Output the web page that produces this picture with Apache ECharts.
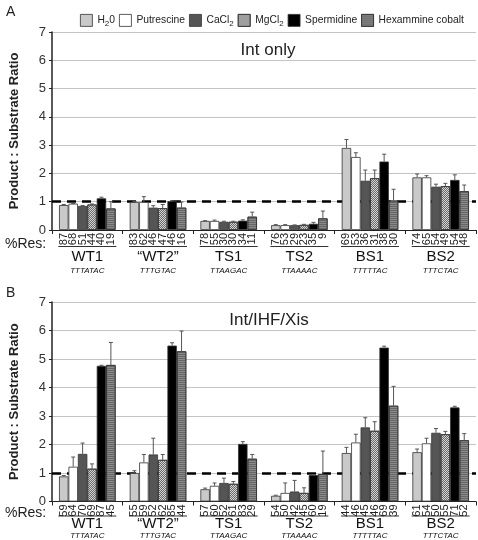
<!DOCTYPE html>
<html><head><meta charset="utf-8">
<script src="https://cdn.jsdelivr.net/npm/echarts@6/dist/echarts.min.js"></script>
<style>html,body{margin:0;padding:0;background:#fff}#c{width:478px;height:540px}</style>
</head><body><div id="c"></div>
<script>
const categories = ['WT1', '\u201cWT2\u201d', 'TS1', 'TS2', 'BS1', 'BS2'];
const sequences = ['TTTATAC', 'TTTGTAC', 'TTAAGAC', 'TTAAAAC', 'TTTTTAC', 'TTTCTAC'];
const seriesNames = ['H20', 'Putrescine', 'CaCl2', 'MgCl2', 'Spermidine', 'Hexammine cobalt'];
const yTicks = [0, 1, 2, 3, 4, 5, 6, 7];

// Panel A (Int only): values per series across categories
const valA_H2O   = [0.88, 0.99, 0.32, 0.17, 2.90, 1.86];
const valA_Put   = [0.93, 0.99, 0.32, 0.17, 2.58, 1.86];
const valA_Ca    = [0.85, 0.79, 0.29, 0.17, 1.74, 1.53];
const valA_Mg    = [0.90, 0.77, 0.29, 0.18, 1.83, 1.55];
const valA_Spd   = [1.12, 1.02, 0.33, 0.22, 2.42, 1.77];
const valA_Hex   = [0.76, 0.79, 0.47, 0.41, 1.04, 1.37];
const errA_H2O   = [0.02, 0.02, 0.01, 0.02, 0.30, 0.12];
const errA_Put   = [0.01, 0.19, 0.03, 0.02, 0.15, 0.06];
const errA_Ca    = [0.02, 0.07, 0.02, 0.01, 0.38, 0.09];
const errA_Mg    = [0.02, 0.13, 0.02, 0.02, 0.29, 0.10];
const errA_Spd   = [0.04, 0.02, 0.03, 0.05, 0.26, 0.18];
const errA_Hex   = [0.24, 0.20, 0.16, 0.26, 0.40, 0.22];
const resA_H2O   = [87, 83, 78, 76, 69, 74];
const resA_Put   = [68, 62, 55, 53, 53, 65];
const resA_Ca    = [51, 46, 30, 29, 36, 54];
const resA_Mg    = [44, 47, 30, 23, 31, 49];
const resA_Spd   = [40, 46, 34, 35, 38, 54];
const resA_Hex   = [19, 16, 11, 9, 30, 48];

// Panel B (Int/IHF/Xis)
const valB_H2O   = [0.88, 1.00, 0.43, 0.20, 1.70, 1.73];
const valB_Put   = [1.22, 1.37, 0.55, 0.30, 2.07, 2.04];
const valB_Ca    = [1.67, 1.65, 0.65, 0.35, 2.60, 2.41];
const valB_Mg    = [1.15, 1.46, 0.62, 0.30, 2.48, 2.36];
const valB_Spd   = [4.76, 5.47, 2.02, 0.93, 5.40, 3.30];
const valB_Hex   = [4.79, 5.27, 1.50, 0.96, 3.36, 2.15];
const errB_H2O   = [0.03, 0.08, 0.04, 0.02, 0.20, 0.11];
const errB_Put   = [0.34, 0.28, 0.10, 0.35, 0.29, 0.18];
const errB_Ca    = [0.38, 0.57, 0.17, 0.39, 0.34, 0.15];
const errB_Mg    = [0.17, 0.19, 0.08, 0.18, 0.32, 0.10];
const errB_Spd   = [0.02, 0.10, 0.08, 0.02, 0.05, 0.04];
const errB_Hex   = [0.79, 0.71, 0.15, 0.81, 0.68, 0.23];
const resB_H2O   = [59, 55, 57, 54, 44, 61];
const resB_Put   = [64, 59, 60, 50, 46, 54];
const resB_Ca    = [70, 52, 52, 42, 45, 50];
const resB_Mg    = [69, 62, 61, 45, 46, 55];
const resB_Spd   = [87, 85, 83, 60, 69, 71];
const resB_Hex   = [45, 44, 29, 19, 39, 52];

const refLine = 1;

const valA = [valA_H2O, valA_Put, valA_Ca, valA_Mg, valA_Spd, valA_Hex];
const errA = [errA_H2O, errA_Put, errA_Ca, errA_Mg, errA_Spd, errA_Hex];
const resA = [resA_H2O, resA_Put, resA_Ca, resA_Mg, resA_Spd, resA_Hex];
const valB = [valB_H2O, valB_Put, valB_Ca, valB_Mg, valB_Spd, valB_Hex];
const errB = [errB_H2O, errB_Put, errB_Ca, errB_Mg, errB_Spd, errB_Hex];
const resB = [resB_H2O, resB_Put, resB_Ca, resB_Mg, resB_Spd, resB_Hex];

const styles = [
  { color: '#c9c9c9' },
  { color: '#ffffff' },
  { color: '#555555' },
  { color: '#d4d4d4', decal: { symbol: 'rect', symbolSize: 1, color: '#6a6a6a', dashArrayX: [[1, 1], [0, 1, 1, 0]], dashArrayY: [1, 0], rotation: 0 } },
  { color: '#000000' },
  { color: '#8a8a8a', decal: { symbol: 'rect', symbolSize: 1, color: '#666666', dashArrayX: [1, 0], dashArrayY: [1, 1], rotation: 0 } }
];

const LF = 'Liberation Sans';
const legendRich = {
  n: { fontSize: 10.3, color: '#222', fontFamily: LF },
  s: { fontSize: 8, color: '#222', fontFamily: LF, padding: [6, 0, 0, 0] }
};
function legendFmt(name) {
  if (name === 'H20') return '{n|H}{s|2}{n|0}';
  if (name === 'CaCl2') return '{n|CaCl}{s|2}';
  if (name === 'MgCl2') return '{n|MgCl}{s|2}';
  return '{n|' + name + '}';
}

const grids = [
  { left: 50, right: 2, top: 32, height: 198 },
  { left: 50, right: 2, top: 302, height: 201 }
];

function xAxisFor(gi) {
  return {
    type: 'category', gridIndex: gi, data: categories,
    axisLine: { lineStyle: { color: '#222', width: 1 } },
    axisTick: { show: true, length: 4, lineStyle: { color: '#222' } },
    axisLabel: {
      interval: 0, margin: gi === 0 ? 15 : 13, color: '#111',
      formatter: function (v, i) { return '{u|}\n{g|' + v + '}\n{s|' + sequences[i] + '}'; },
      rich: {
        u: { width: 58, height: 1.2, backgroundColor: '#333', lineHeight: 3 },
        g: { fontSize: 15, lineHeight: gi === 0 ? 17 : 13, fontFamily: 'Liberation Sans', color: '#111' },
        s: { fontSize: 8, fontStyle: 'italic', lineHeight: 11, fontFamily: 'Liberation Sans', color: '#111' }
      }
    }
  };
}
function yAxisFor(gi) {
  return {
    type: 'value', gridIndex: gi, min: yTicks[0], max: yTicks[yTicks.length - 1], interval: 1,
    name: 'Product : Substrate Ratio', nameLocation: 'middle', nameGap: 31,
    nameTextStyle: { fontWeight: 'bold', fontSize: 13, color: '#222', fontFamily: 'Liberation Sans' },
    axisLine: { show: true, lineStyle: { color: '#222', width: 1.5 } },
    axisTick: { show: true, length: 3, lineStyle: { color: '#222' } },
    axisLabel: { fontSize: 13, color: '#333', margin: 6, fontFamily: 'Liberation Sans' },
    splitLine: { lineStyle: { color: '#c4c4c4', width: 1 } }
  };
}

const series = [];
[[valA, errA, resA], [valB, errB, resB]].forEach(function (panel, gi) {
  const vals = panel[0], errs = panel[1], res = panel[2];
  seriesNames.forEach(function (name, k) {
    const s = {
      type: 'bar', name: name, xAxisIndex: gi, yAxisIndex: gi,
      data: vals[k], barGap: '0%', barCategoryGap: '20%', z: 2,
      itemStyle: Object.assign({ borderColor: '#333', borderWidth: 0.8 }, styles[k]),
      label: {
        show: true, position: 'bottom', rotate: 90, align: 'right', verticalAlign: 'middle',
        distance: 3, fontSize: 11, color: '#222', fontFamily: 'Liberation Sans',
        formatter: (function (arr) { return function (p) { return String(arr[p.dataIndex]); }; })(res[k])
      },
      emphasis: { disabled: true }
    };
    if (k === 0) {
      s.markLine = {
        z: 1, silent: true, symbol: 'none', label: { show: false },
        lineStyle: { type: [9, 6], color: '#000', width: 2.5 },
        data: [{ yAxis: refLine }]
      };
    }
    series.push(s);
  });
  const ebData = [];
  seriesNames.forEach(function (name, k) {
    vals[k].forEach(function (v, c) { ebData.push([c, k, v, v + errs[k][c]]); });
  });
  series.push({
    type: 'custom', xAxisIndex: gi, yAxisIndex: gi, z: 3, silent: true,
    encode: { x: 0, y: 3 },
    data: ebData,
    renderItem: function (params, api) {
      const c = api.value(0), k = api.value(1), v = api.value(2), e = api.value(3);
      const p0 = api.coord([c, v]);
      const p1 = api.coord([c, e]);
      const band = api.size([1, 0])[0];
      const gw = band * 0.8, bw = gw / 6;
      const x = p0[0] - gw / 2 + (k + 0.5) * bw;
      const st = { stroke: '#555', lineWidth: 1 };
      return {
        type: 'group', children: [
          { type: 'line', shape: { x1: x, y1: p0[1], x2: x, y2: p1[1] }, style: st },
          { type: 'line', shape: { x1: x - 2, y1: p1[1], x2: x + 2, y2: p1[1] }, style: st }
        ]
      };
    }
  });
});

const chart = echarts.init(document.getElementById('c'), null, { renderer: 'canvas' });
chart.setOption({
  animation: false,
  backgroundColor: '#fff',
  textStyle: { fontFamily: 'Liberation Sans' },
  title: [
    { text: 'A', left: 1, top: 0, textStyle: { fontSize: 14, fontWeight: 'normal', color: '#222' } },
    { text: 'B', left: 1, top: 281, textStyle: { fontSize: 14, fontWeight: 'normal', color: '#222' } },
    { text: 'Int only', left: 263, top: 37, textAlign: 'center', textStyle: { fontSize: 17, fontWeight: 'normal', color: '#222' } },
    { text: 'Int/IHF/Xis', left: 264, top: 307, textAlign: 'center', textStyle: { fontSize: 17, fontWeight: 'normal', color: '#222' } },
    { text: '%Res:', left: 0, top: 232, textStyle: { fontSize: 14, fontWeight: 'normal', color: '#222' } },
    { text: '%Res:', left: 0, top: 501, textStyle: { fontSize: 14, fontWeight: 'normal', color: '#222' } }
  ],
  legend: {
    data: seriesNames, left: 80, top: 14, width: 396, padding: 0, itemWidth: 12, itemHeight: 12, itemGap: 4,
    icon: 'rect', formatter: legendFmt, textStyle: { rich: legendRich },
    itemStyle: { borderColor: '#333', borderWidth: 0.8 }
  },
  grid: grids,
  xAxis: [xAxisFor(0), xAxisFor(1)],
  yAxis: [yAxisFor(0), yAxisFor(1)],
  series: series
});
</script></body></html>
